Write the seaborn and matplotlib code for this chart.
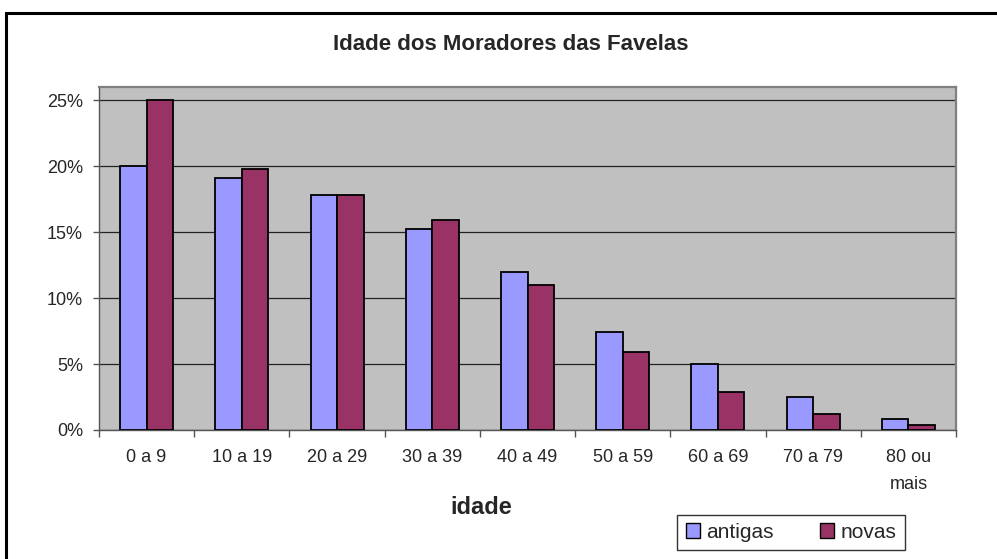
import matplotlib
matplotlib.use('Agg')
import matplotlib.pyplot as plt
from matplotlib.patches import Rectangle, Patch
from matplotlib.ticker import PercentFormatter
import seaborn as sns
import pandas as pd

faixas = ['0 a 9', '10 a 19', '20 a 29', '30 a 39', '40 a 49',
          '50 a 59', '60 a 69', '70 a 79', '80 ou\nmais']
antigas = [20.0, 19.1, 17.8, 15.2, 12.0, 7.4, 5.0, 2.5, 0.8]
novas = [25.0, 19.8, 17.8, 15.9, 11.0, 5.9, 2.9, 1.2, 0.4]
cores = {'antigas': '#9999FF', 'novas': '#993366'}

df = pd.DataFrame({
    'idade': faixas * 2,
    'valor': antigas + novas,
    'tipo': ['antigas'] * len(faixas) + ['novas'] * len(faixas),
})

sns.set_style('white')
plt.rcParams['font.family'] = ['Liberation Sans', 'DejaVu Sans']

W, H = 997, 559
fig = plt.figure(figsize=(W / 100, H / 100), dpi=100)
ax = fig.add_axes([99 / W, 1 - 430 / H, (956 - 99) / W, (430 - 87) / H])

sns.barplot(data=df, x='idade', y='valor', hue='tipo', order=faixas,
            palette=cores, saturation=1, width=0.557, edgecolor='black',
            linewidth=1.3, ax=ax, legend=False, zorder=3)

ax.set_facecolor('#C0C0C0')
ax.set_ylim(0, 26)
ax.set_xlim(-0.5, len(faixas) - 0.5)
ax.set_yticks([0, 5, 10, 15, 20, 25])
ax.yaxis.set_major_formatter(PercentFormatter(decimals=0))
ax.grid(axis='y', color='#222222', linewidth=0.9, zorder=1)
ax.set_axisbelow(True)
for s in ['left', 'bottom']:
    ax.spines[s].set_color('#555555')
    ax.spines[s].set_linewidth(1.0)
for s in ['top', 'right']:
    ax.spines[s].set_color('#808080')
    ax.spines[s].set_linewidth(1.6)

# labels centered, ticks at category boundaries (excel style)
ax.set_xticks(range(len(faixas)))
ax.set_xticklabels(faixas, fontsize=13, linespacing=1.7, va='top')
ax.tick_params(axis='x', length=0, pad=14)
ax.set_xticks([i - 0.5 for i in range(len(faixas) + 1)], minor=True)
ax.tick_params(axis='x', which='minor', length=5, width=1, direction='out',
               color='#555555', bottom=True)
ax.tick_params(axis='y', length=4.5, width=1, direction='out', color='#555555',
               labelsize=13, left=True, pad=7)
ax.set_xlabel('')
ax.set_ylabel('')

fig.text(481 / W, 1 - 508 / H, 'idade', fontsize=17, fontweight='bold',
         ha='center', va='center')
fig.text(511 / W, 1 - 44 / H, 'Idade dos Moradores das Favelas', fontsize=16,
         fontweight='bold', ha='center', va='center')

handles = [Patch(facecolor=cores[k], edgecolor='black', label=k) for k in ['antigas', 'novas']]
leg = fig.legend(handles=handles, loc='center', bbox_to_anchor=(791 / W, 1 - 532.5 / H),
                 ncol=2, frameon=True, fancybox=False, edgecolor='black', fontsize=15,
                 handlelength=0.7, handleheight=0.7, handletextpad=0.3,
                 columnspacing=2.2, borderpad=0.4)
leg.get_frame().set_linewidth(1.0)

# outer chart frame
fig.patches.append(Rectangle((6 / W, -0.1), 1.2, 1.1 - 13 / H, transform=fig.transFigure,
                             fill=False, edgecolor='black', linewidth=2.2))

fig.savefig('out.png', dpi=100)
